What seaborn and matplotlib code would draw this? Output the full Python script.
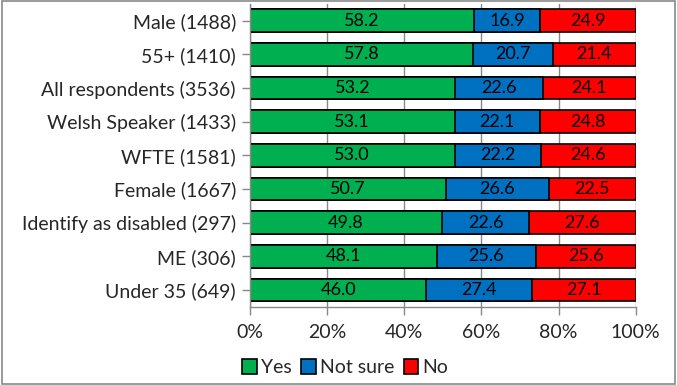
import matplotlib
matplotlib.use("Agg")
import matplotlib.pyplot as plt
import seaborn as sns
import pandas as pd
import numpy as np
from matplotlib.patches import Rectangle, Patch

categories = ["Male (1488)", "55+ (1410)", "All respondents (3536)", "Welsh Speaker (1433)",
              "WFTE (1581)", "Female (1667)", "Identify as disabled (297)", "ME (306)", "Under 35 (649)"]
yes = [58.2, 57.8, 53.2, 53.1, 53.0, 50.7, 49.8, 48.1, 46.0]
not_sure = [16.9, 20.7, 22.6, 22.1, 22.2, 26.6, 22.6, 25.6, 27.4]
no = [24.9, 21.4, 24.1, 24.8, 24.6, 22.5, 27.6, 25.6, 27.1]
series_names = ["Yes", "Not sure", "No"]
colors = ["#00B050", "#0070C0", "#FF0000"]
xticks = [0, 20, 40, 60, 80, 100]

sns.set_theme(style="white")
plt.rcParams['font.family'] = ['Lato', 'DejaVu Sans']

fig = plt.figure(figsize=(6.77, 3.85), dpi=100)
ax = fig.add_axes([0.369, 0.203, 0.570, 0.787])

df = pd.DataFrame({"cat": categories, "Yes": yes, "Not sure": not_sure, "No": no})
total = df["Yes"] + df["Not sure"] + df["No"]
# 100% stacked: normalise each row
df["p_yes"] = df["Yes"] / total * 100
df["cum1"] = (df["Yes"] + df["Not sure"]) / total * 100
df["cum2"] = 100.0 * total / total

kw = dict(orient="h", width=0.68, edgecolor="black", linewidth=1.2, ax=ax, saturation=1)
sns.barplot(data=df, y="cat", x="cum2", color=colors[2], **kw)
sns.barplot(data=df, y="cat", x="cum1", color=colors[1], **kw)
sns.barplot(data=df, y="cat", x="p_yes", color=colors[0], **kw)

for i in range(len(categories)):
    t = yes[i] + not_sure[i] + no[i]
    vals = [yes[i], not_sure[i], no[i]]
    start = 0.0
    for v in vals:
        w = v / t * 100
        ax.text(start + w / 2, i, f"{v:.1f}", ha="center", va="center", fontsize=13, color="black")
        start += w

ax.set_xlim(0, 100)
ax.set_ylim(len(categories) - 0.5, -0.5)
ax.set_xticks(xticks)
ax.set_xticklabels([f"{t}%" for t in xticks], fontsize=14)
ax.tick_params(axis="y", labelsize=14, length=6, color="#898989", width=1, left=True, pad=4)
ax.tick_params(axis="x", length=6, color="#898989", width=1, bottom=True, pad=6)
ax.set_xlabel("")
ax.set_ylabel("")
ax.xaxis.grid(True, color="#898989", linewidth=1)
ax.set_axisbelow(True)
for side in ["top", "right"]:
    ax.spines[side].set_visible(False)
for side in ["left", "bottom"]:
    ax.spines[side].set_color("#898989")
    ax.spines[side].set_linewidth(1)

leg_handles = [Patch(facecolor=c, edgecolor="black", linewidth=1.2) for c in colors]
fig.legend(leg_handles, series_names, loc="center", bbox_to_anchor=(0.51, 0.045), ncol=3,
           frameon=False, fontsize=14, handlelength=0.75, handleheight=0.75,
           handletextpad=0.2, columnspacing=0.5)

fig.patches.append(Rectangle((0.003, 0.003), 0.994, 0.994, transform=fig.transFigure,
                             fill=False, edgecolor="#898989", linewidth=1.2))

fig.savefig("out.png", dpi=100)
